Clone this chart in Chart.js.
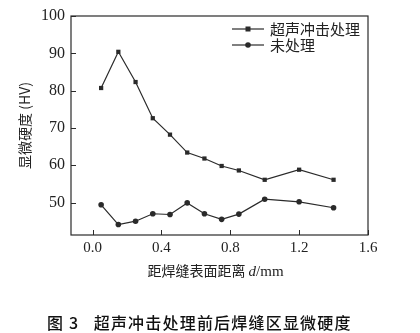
<!DOCTYPE html>
<html><head><meta charset="utf-8">
<script src="https://cdn.jsdelivr.net/npm/chart.js@4"></script>
<style>
html,body{margin:0;padding:0;background:#fff;}
#wrap{position:relative;width:420px;height:333px;}
#cap{position:absolute;left:47px;top:310px;white-space:nowrap;font-family:"Noto Sans CJK SC";font-size:16px;font-weight:500;color:#111;letter-spacing:1.2px;}
</style></head>
<body>
<div id="wrap"><canvas id="c" width="420" height="333"></canvas>
<div id="cap">图 3&nbsp;&nbsp;&nbsp;超声冲击处理前后焊缝区显微硬度</div></div>
<script>
const distances = [0.05,0.15,0.25,0.35,0.45,0.55,0.65,0.75,0.85,1.0,1.2,1.4];
const treated = [80.7,90.4,82.3,72.6,68.2,63.4,61.8,59.8,58.6,56.1,58.8,56.1];
const untreated = [49.4,44.1,45.0,47.0,46.8,49.9,47.0,45.5,46.9,50.9,50.2,48.6];
const seriesNames = ['超声冲击处理','未处理'];
const xTicks = [0.0,0.4,0.8,1.2,1.6];
const yTicks = [50,60,70,80,90,100];
const xTitleCn = '距焊缝表面距离 ';
const xTitleVar = 'd';
const xTitleUnit = '/mm';

const ink = '#2a2a2a';
const serif = '"Liberation Serif","DejaVu Serif",serif';

const frame = {
  id:'frame',
  afterDraw(chart){
    const {ctx, chartArea:a, scales:{x,y}} = chart;
    ctx.save();
    ctx.strokeStyle = ink; ctx.lineWidth = 1.2;
    ctx.strokeRect(a.left, a.top, a.right-a.left, a.bottom-a.top);
    ctx.lineWidth = 1;
    xTicks.forEach(v=>{const px=Math.round(x.getPixelForValue(v))+0.5;ctx.beginPath();ctx.moveTo(px,a.bottom);ctx.lineTo(px,a.bottom-5);ctx.stroke();});
    yTicks.forEach(v=>{const py=Math.round(y.getPixelForValue(v))+0.5;ctx.beginPath();ctx.moveTo(a.left,py);ctx.lineTo(a.left+5,py);ctx.stroke();});
    // x title (mixed fonts)
    ctx.fillStyle = '#222'; ctx.textBaseline='middle'; ctx.textAlign='left';
    const fCn = '14px "Noto Sans CJK SC"', fVar = 'italic 15px "Liberation Serif"', fUnit = '15px "Liberation Serif"';
    ctx.font=fCn; const w1=ctx.measureText(xTitleCn).width;
    ctx.font=fVar; const w2=ctx.measureText(xTitleVar).width;
    ctx.font=fUnit; const w3=ctx.measureText(xTitleUnit).width;
    let tx = (a.left+a.right)/2 - (w1+w2+w3)/2 - 4; const ty = 271;
    ctx.font=fCn; ctx.fillText(xTitleCn,tx,ty); tx+=w1;
    ctx.font=fVar; ctx.fillText(xTitleVar,tx,ty+1); tx+=w2;
    ctx.font=fUnit; ctx.fillText(xTitleUnit,tx,ty+1);
    // legend
    const rows = [{y:29, ds:chart.data.datasets[0]},{y:45, ds:chart.data.datasets[1]}];
    rows.forEach(r=>{
      ctx.strokeStyle = ink; ctx.lineWidth = 1.2;
      ctx.beginPath(); ctx.moveTo(232,r.y); ctx.lineTo(264,r.y); ctx.stroke();
      ctx.fillStyle = ink;
      if(r.ds.pointStyle==='rect'){ctx.fillRect(245.5,r.y-2.5,5,5);}
      else {ctx.beginPath();ctx.arc(248,r.y,2.8,0,Math.PI*2);ctx.fill();}
      ctx.font = '15px "Noto Sans CJK SC"'; ctx.textBaseline='middle'; ctx.textAlign='left';
      ctx.fillStyle = '#222';
      ctx.fillText(r.ds.label, 270, r.y);
    });
    ctx.restore();
  }
};

new Chart(document.getElementById('c'), {
  type:'line',
  data:{
    datasets:[
      {label:seriesNames[0], data:distances.map((d,i)=>({x:d,y:treated[i]})), borderColor:ink, backgroundColor:ink, borderWidth:1.2, pointStyle:'rect', pointRadius:3, pointBorderWidth:0, tension:0},
      {label:seriesNames[1], data:distances.map((d,i)=>({x:d,y:untreated[i]})), borderColor:ink, backgroundColor:ink, borderWidth:1.2, pointStyle:'circle', pointRadius:2.8, pointBorderWidth:0, tension:0}
    ]
  },
  options:{
    responsive:false, animation:false, devicePixelRatio:1,
    layout:{padding:{left:0,right:52,top:16,bottom:48}},
    plugins:{legend:{display:false}, tooltip:{enabled:false}},
    scales:{
      x:{type:'linear', min:-0.125, max:1.6,
        afterBuildTicks(ax){ax.ticks = xTicks.map(v=>({value:v}));},
        afterFit(ax){ax.height = 50;},
        grid:{display:false, drawTicks:false}, border:{display:false},
        ticks:{padding:4, color:'#222', font:{family:serif,size:15}, callback:v=>v.toFixed(1), maxRotation:0},
        title:{display:false}
      },
      y:{type:'linear', min:41.3, max:100,
        afterBuildTicks(ax){ax.ticks = yTicks.map(v=>({value:v}));},
        afterFit(ax){ax.width = 71;},
        grid:{display:false, drawTicks:false}, border:{display:false},
        ticks:{padding:6, color:'#222', font:{family:serif,size:16}},
        title:{display:true, text:'显微硬度 (HV)', color:'#222', font:{family:'"Noto Sans CJK SC"',size:14}, padding:{top:16,bottom:0}}
      }
    }
  },
  plugins:[frame]
});
</script>
</body></html>
